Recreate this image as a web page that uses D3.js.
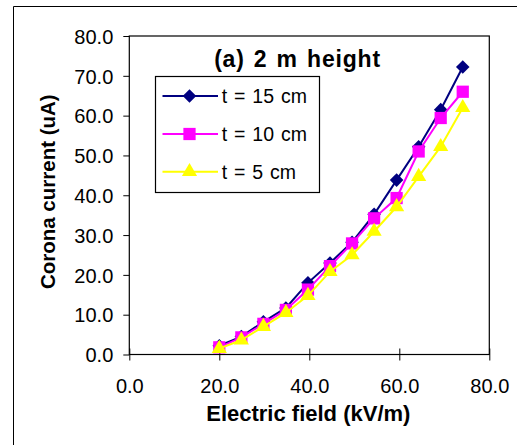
<!DOCTYPE html>
<html><head><meta charset="utf-8">
<script src="https://cdn.jsdelivr.net/npm/d3@7"></script>
<style>
html,body{margin:0;padding:0;background:#fff;}
svg{display:block;font-family:"Liberation Sans",Arial,sans-serif;}
</style></head>
<body>
<svg id="chart" width="517" height="445"></svg>
<script>
// ---- data ----
const electricField = [20.0, 24.9, 29.8, 34.8, 39.7, 44.6, 49.5, 54.4, 59.4, 64.3, 69.2, 74.1];
const current15cm = [2.2, 4.5, 8.2, 11.7, 18.0, 23.0, 28.2, 35.2, 43.8, 52.2, 61.5, 72.2];
const current10cm = [1.8, 4.3, 7.7, 11.2, 16.3, 22.2, 27.9, 34.2, 39.3, 51.0, 59.4, 66.0];
const current5cm  = [1.5, 3.6, 7.0, 10.5, 14.8, 20.8, 25.0, 30.9, 37.1, 44.7, 52.2, 62.0];
const seriesNames = ["t = 15 cm", "t = 10 cm", "t = 5 cm"];
const xTicks = [0, 20, 40, 60, 80];
const yTicks = [0, 10, 20, 30, 40, 50, 60, 70, 80];
const titleText = "(a) 2 m height";
const xTitle = "Electric field (kV/m)";
const yTitle = "Corona current (uA)";

const series = [
  {name: seriesNames[0], values: current15cm, color: "#000080", symbol: d3.symbolSquare, size: 92, rot: 45},
  {name: seriesNames[1], values: current10cm, color: "#FF00FF", symbol: d3.symbolSquare, size: 150, rot: 0},
  {name: seriesNames[2], values: current5cm,  color: "#FFFF00", symbol: d3.symbolTriangle, size: 100, rot: 0}
];

const svg = d3.select("#chart");
const L = 129.3, R = 489.3, T = 36, B = 354.5;
const x = d3.scaleLinear().domain([0, 80]).range([L, R]);
const y = d3.scaleLinear().domain([0, 80]).range([B, T]);

// outer frame
svg.append("path").attr("d", "M13.5,445 V6.5 H517").attr("fill", "none").attr("stroke", "#000").attr("stroke-width", 1);

// plot border
svg.append("rect").attr("x", L).attr("y", T).attr("width", R - L).attr("height", B - T)
  .attr("fill", "none").attr("stroke", "#000").attr("stroke-width", 1.2);

// axes
const xAxis = svg.append("g").attr("transform", `translate(0,${B})`)
  .call(d3.axisBottom(x).tickValues(xTicks).tickSize(6).tickFormat(d3.format(".1f")));
xAxis.select(".domain").remove();
xAxis.selectAll(".tick line").attr("y1", -6).attr("y2", 6).attr("stroke", "#000");
xAxis.selectAll(".tick text").attr("y", 38.5).attr("dy", 0)
  .attr("font-size", 20).attr("font-family", "Liberation Sans, Arial, sans-serif").attr("fill", "#000");

const yAxis = svg.append("g").attr("transform", `translate(${L},0)`)
  .call(d3.axisLeft(y).tickValues(yTicks).tickSize(6).tickPadding(10).tickFormat(d3.format(".1f")));
yAxis.select(".domain").remove();
yAxis.selectAll(".tick line").attr("stroke", "#000");
yAxis.selectAll(".tick text").attr("font-size", 20).attr("dy", "0.36em")
  .attr("font-family", "Liberation Sans, Arial, sans-serif").attr("fill", "#000");

// axis titles
svg.append("text").attr("x", 308.3).attr("y", 421).attr("text-anchor", "middle")
  .attr("font-size", 22).attr("font-weight", "bold").text(xTitle);
svg.append("text").attr("transform", "translate(55,191.7) rotate(-90)").attr("text-anchor", "middle")
  .attr("font-size", 20.5).attr("font-weight", "bold").text(yTitle);

// chart title
svg.append("text").attr("x", 297.5).attr("y", 66.5).attr("text-anchor", "middle")
  .attr("font-size", 23).attr("font-weight", "bold").attr("letter-spacing", 0.8).attr("word-spacing", 2)
  .text(titleText);

// series
const line = d3.line().x((d, i) => x(electricField[i])).y(d => y(d));
series.forEach(s => {
  const g = svg.append("g");
  g.append("path").datum(s.values).attr("d", line).attr("fill", "none")
    .attr("stroke", s.color).attr("stroke-width", 2);
  g.selectAll("path.m").data(s.values).join("path").attr("class", "m")
    .attr("transform", (d, i) => `translate(${x(electricField[i])},${y(d)}) rotate(${s.rot})`)
    .attr("d", d3.symbol().type(s.symbol).size(s.size)).attr("fill", s.color);
});

// legend
const lg = svg.append("g");
lg.append("rect").attr("x", 155.5).attr("y", 76.5).attr("width", 164).attr("height", 116)
  .attr("fill", "#fff").attr("stroke", "#000").attr("stroke-width", 1.2);
const rowY = [96, 134, 171.7];
series.forEach((s, i) => {
  lg.append("line").attr("x1", 162.5).attr("x2", 218).attr("y1", rowY[i]).attr("y2", rowY[i])
    .attr("stroke", s.color).attr("stroke-width", 2);
  lg.append("path").attr("transform", `translate(189.5,${rowY[i]}) rotate(${s.rot})`)
    .attr("d", d3.symbol().type(s.symbol).size(s.size)).attr("fill", s.color);
  lg.append("text").attr("x", 221.7).attr("y", rowY[i]).attr("dy", "0.36em")
    .attr("font-size", 19.5).attr("word-spacing", 1.5).text(s.name);
});
</script>
</body></html>
